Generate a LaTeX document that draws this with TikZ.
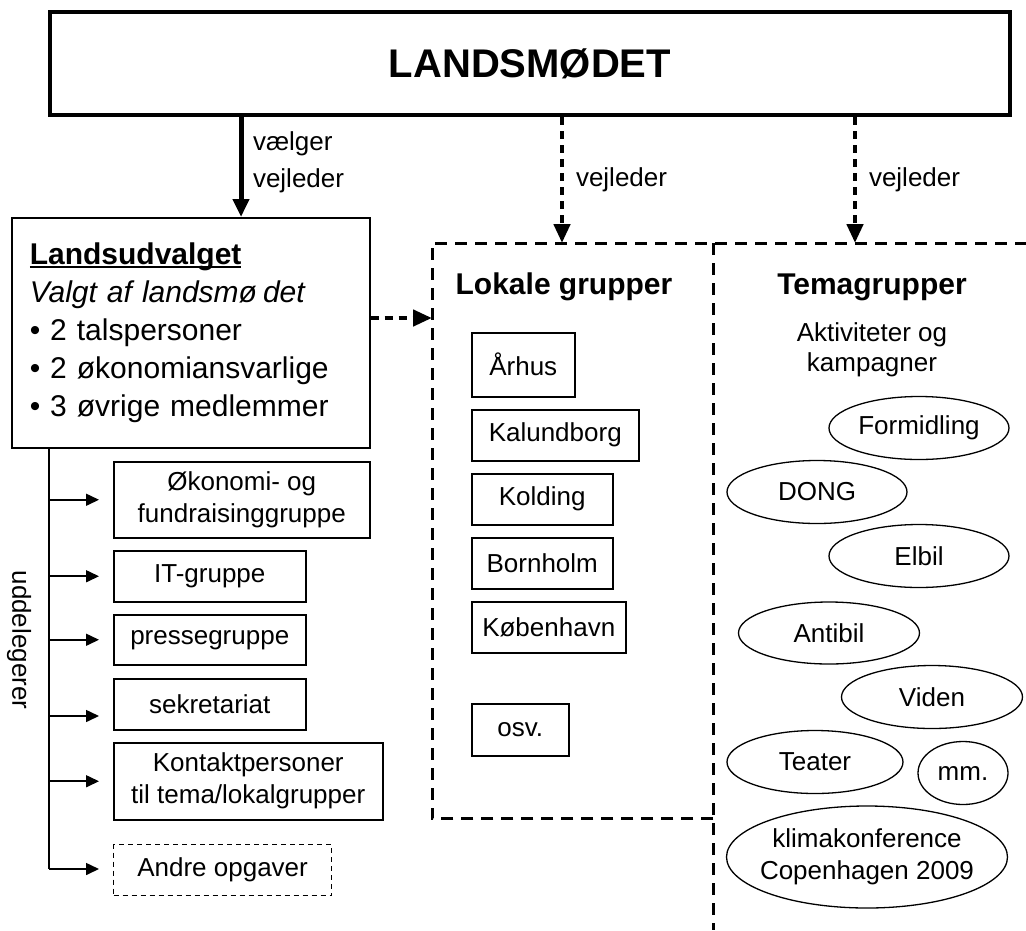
\documentclass[tikz,border=0pt]{standalone}
\usepackage{fontspec}
\setmainfont{Liberation Sans}
\usetikzlibrary{shapes.geometric,arrows.meta}
\newcommand\fsz[2]{\fontsize{#1}{#2}\selectfont}
\newcommand\myul[1]{\setbox0=\hbox{#1}\rlap{\rule[-3.5pt]{\wd0}{2.2pt}}\box0}
\begin{document}
\begin{tikzpicture}[x=1pt,y=-1pt,
  txt/.style={inner sep=0pt, outer sep=0pt, font=\fsz{26}{32}},
  gbox/.style={draw, line width=1.5pt, align=center, anchor=north west, inner sep=0pt, font=\fsz{26}{32}},
  oval/.style={draw, ellipse, line width=1.3pt, inner sep=-20pt, align=center, font=\fsz{26}{32}},
  bigarrow/.style={line width=5pt, -{Triangle[width=16pt,length=18pt]}},
  dotarrow/.style={line width=4.5pt, dash pattern=on 8pt off 6pt, -{Triangle[width=16pt,length=19pt]}},
  smallarrow/.style={line width=1.6pt, -{Triangle[width=12pt,length=13pt]}},
  dashline/.style={line width=3pt, dash pattern=on 12pt off 8pt},
]
\useasboundingbox[fill=white] (0,0) rectangle (1026,930);

% top
\node[draw, line width=4pt, minimum width=960pt, minimum height=103pt, inner sep=0pt, font=\bfseries\fsz{40}{48}] (lm) at (530,63.5) {LANDSMØDET};

% Landsudvalget
\node[draw, line width=1.5pt, anchor=north west, minimum width=358pt, minimum height=230pt, inner xsep=18pt, inner ysep=0pt, text width=322pt, align=left, font=\fsz{30}{38}] (lu) at (11,217)
  {\textbf{\myul{Landsudvalget}}\\ \textit{Valgt af landsmø\kern6pt det}\\ • 2 talspersoner\\ • 2 økonomiansvarlige\\ • 3 øvrige medlemmer};

% group regions
\node[anchor=north west, minimum width=281pt, minimum height=575pt, inner sep=0pt] (lok) at (432,243) {};
\node[anchor=north west, minimum width=313pt, minimum height=687pt, inner sep=0pt] (tema) at (713,243) {};
\draw[dashline] (lok.south east) -- (lok.south west) -- (lok.north west) -- (tema.north east);
\draw[dashline] (tema.north west) -- (tema.south west);

% arrows from top
\coordinate (c1) at (241,0);
\coordinate (c2) at (562,0);
\coordinate (c3) at (855,0);
\draw[bigarrow] (lm.south -| c1) -- (lu.north -| c1);
\draw[dotarrow] (lm.south -| c2) -- (lok.north -| c2);
\draw[dotarrow] (lm.south -| c3) -- (tema.north -| c3);
\node[txt, anchor=west, align=left, font=\fsz{26}{37}] (l1) at (253,162) {vælger\\vejleder};
\node[txt, anchor=west] (l2) at (576,180) {vejleder};
\node[txt, anchor=west] (l3) at (869,180) {vejleder};

% horizontal dotted arrow
\coordinate (h1) at (0,318);
\draw[dotarrow] (lu.east |- h1) -- (lok.west |- h1);

% left groups
\node[gbox, minimum width=256pt, minimum height=76pt] (eko) at (113,461) {Økonomi- og\\fundraisinggruppe};
\node[gbox, minimum width=192pt, minimum height=51pt] (it) at (113,550) {IT-gruppe};
\node[gbox, minimum width=192pt, minimum height=50pt] (pres) at (113,614) {pressegruppe};
\node[gbox, minimum width=192pt, minimum height=51pt] (sek) at (113,678) {sekretariat};
\node[gbox, minimum width=269pt, minimum height=77pt] (kon) at (113,742) {Kontaktpersoner\\til tema/lokalgrupper};
\node[gbox, line width=1.2pt, dash pattern=on 5pt off 4pt, minimum width=218pt, minimum height=51pt] (andre) at (113,844) {Andre opgaver};

\coordinate (tr) at (49,0);
\coordinate (trb) at (49,869);
\coordinate (sy) at (0,716);
\draw[line width=1.6pt] (lu.south -| tr) -- (trb);
\draw[smallarrow, shorten >=14pt] (eko.west -| tr) -- (eko.west);
\draw[smallarrow, shorten >=14pt] (it.west -| tr) -- (it.west);
\draw[smallarrow, shorten >=14pt] (pres.west -| tr) -- (pres.west);
\draw[smallarrow, shorten >=14pt] (tr |- sy) -- (sek.west |- sy);
\draw[smallarrow, shorten >=14pt] (kon.west -| tr) -- (kon.west);
\draw[smallarrow, shorten >=14pt] (trb) -- (andre.west |- trb);
\node[txt, rotate=-90] (udd) at (19,640) {uddelegerer};

% Lokale grupper
\node[txt, font=\bfseries\fsz{30}{36}, anchor=base] (lgt) at (564,294) {Lokale grupper};
\node[gbox, minimum width=103pt, minimum height=64pt] (arh) at (471,332) {Århus};
\node[gbox, minimum width=167pt, minimum height=51pt] (kal) at (471,409) {Kalundborg};
\node[gbox, minimum width=141pt, minimum height=51pt] (kol) at (471,473) {Kolding};
\node[gbox, minimum width=141pt, minimum height=51pt] (bor) at (471,537) {Bornholm};
\node[gbox, minimum width=154pt, minimum height=51pt] (kbh) at (471,601) {København};
\node[gbox, minimum width=97pt, minimum height=52pt] (osv) at (471,703) {osv.};

% Temagrupper
\node[txt, font=\bfseries\fsz{30}{36}, anchor=base] (tgt) at (872,294) {Temagrupper};
\node[txt, align=center, font=\fsz{26}{30}] (akt) at (872,350) {Aktiviteter og\\kampagner};
\node[oval, minimum width=180pt, minimum height=63pt] (formid) at (919,428) {Formidling};
\node[oval, minimum width=180pt, minimum height=63pt] (dong) at (817,492) {DONG};
\node[oval, minimum width=180pt, minimum height=63pt] (elbil) at (919,556) {Elbil};
\node[oval, minimum width=181pt, minimum height=62pt] (antibil) at (829,633) {Antibil};
\node[oval, minimum width=181pt, minimum height=63pt] (viden) at (932,697) {Viden};
\node[oval, minimum width=176pt, minimum height=63pt] (teater) at (815,762) {Teater};
\node[oval, minimum width=90pt, minimum height=63pt] (mm) at (963,773) {mm.};
\node[oval, minimum width=281pt, minimum height=102pt] (klima) at (867,857) {klimakonference\\Copenhagen 2009};
\end{tikzpicture}
\end{document}
